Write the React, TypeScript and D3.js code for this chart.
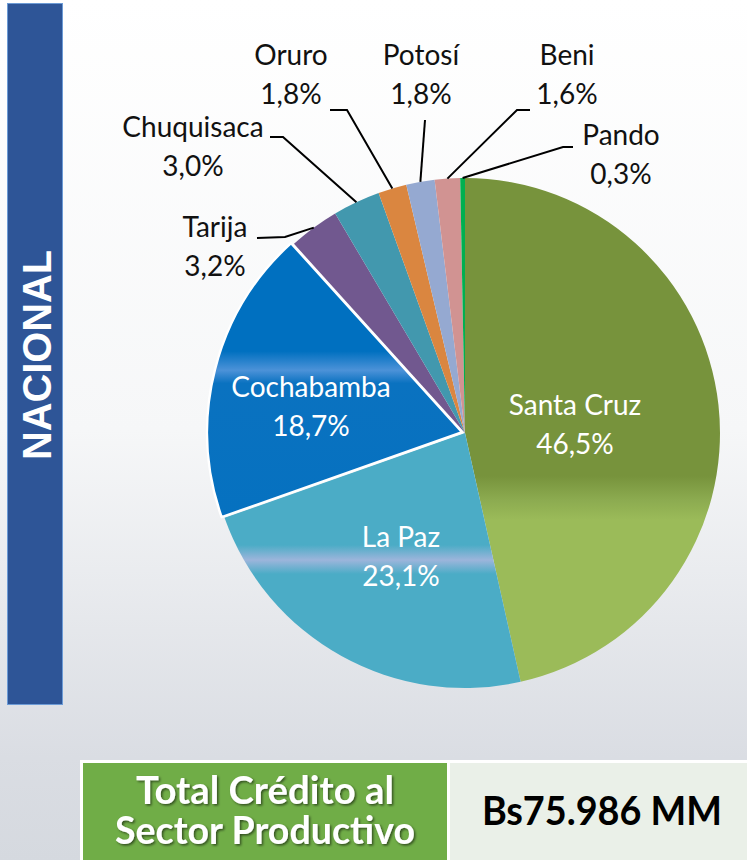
import React, { useEffect, useRef } from 'react';
import * as d3 from 'd3';

// datos del gráfico
const departments = ['Santa Cruz', 'La Paz', 'Cochabamba', 'Tarija', 'Chuquisaca', 'Oruro', 'Potosí', 'Beni', 'Pando'];
const shares = [46.5, 23.1, 18.7, 3.2, 3.0, 1.8, 1.8, 1.6, 0.3];
const sideTitle = 'NACIONAL';
const totalTitle = ['Total Crédito al', 'Sector Productivo'];
const totalValue = 'Bs75.986 MM';

const sliceColors = ['#77933C', '#4BACC6', '#0070C0', '#71588F', '#4298AE', '#DA8640', '#95A9D1', '#D19392', '#00B050'];

// posición de las etiquetas (solo layout)
const labelLayout = {
  'Santa Cruz': { x: 575, y: 415, inside: true },
  'La Paz': { x: 401, y: 547, inside: true },
  'Cochabamba': { x: 311, y: 397, inside: true },
  'Tarija': { x: 215, y: 237, start: [257, 238], elbow: [285, 237] },
  'Chuquisaca': { x: 193, y: 137, start: [270, 137], elbow: [283, 137] },
  'Oruro': { x: 291, y: 65, start: [330, 110], elbow: [347, 110] },
  'Potosí': { x: 421, y: 65, start: [425, 120], elbow: null },
  'Beni': { x: 567, y: 65, start: [530, 110], elbow: [517, 110] },
  'Pando': { x: 621, y: 145, start: [573, 147], elbow: [563, 147] },
};

const fmtPct = (v) => v.toFixed(1).replace('.', ',') + '%';

const App = () => {
  const chartRef = useRef(null);

  useEffect(() => {
    d3.select(chartRef.current).selectAll('*').remove();

    const width = 747;
    const height = 860;
    const cx = 465;
    const cy = 433;
    const radius = 255;
    const labelFont = "Lato, 'Open Sans', sans-serif";

    const svg = d3.select(chartRef.current)
      .append('svg')
      .attr('width', width)
      .attr('height', height)
      .attr('viewBox', [0, 0, width, height]);

    const defs = svg.append('defs');

    const bg = defs.append('linearGradient').attr('id', 'bg').attr('x1', 0).attr('y1', 0).attr('x2', 0).attr('y2', 1);
    bg.append('stop').attr('offset', 0).attr('stop-color', '#FFFFFF');
    bg.append('stop').attr('offset', 0.5).attr('stop-color', '#F6F7F8');
    bg.append('stop').attr('offset', 0.88).attr('stop-color', '#DADDE3');
    bg.append('stop').attr('offset', 1).attr('stop-color', '#D5D9DF');

    const shadow = defs.append('filter').attr('id', 'shadow').attr('x', '-10%').attr('y', '-20%').attr('width', '120%').attr('height', '150%');
    shadow.append('feDropShadow').attr('dx', 1.5).attr('dy', 1.5).attr('stdDeviation', 1).attr('flood-color', '#000').attr('flood-opacity', 0.55);

    // degradados de las porciones (bandas horizontales)
    const toOff = (y) => (y - (cy - radius)) / (2 * radius);
    const bandStops = {
      'Santa Cruz': [[0, '#77933C'], [toOff(476), '#77933C'], [toOff(500), '#8CAB50'], [toOff(520), '#9BBB59'], [1, '#9BBB59']],
      'La Paz': [[0, '#4BACC6'], [toOff(545), '#4BACC6'], [toOff(560), '#9CB5DB'], [toOff(574), '#4BACC6'], [1, '#4BACC6']],
      'Cochabamba': [[0, '#0070C0'], [toOff(352), '#0070C0'], [toOff(371), '#4C92D8'], [toOff(384), '#0A72C0'], [1, '#0070C0']],
    };
    departments.forEach((name, i) => {
      const g = defs.append('linearGradient')
        .attr('id', `grad${i}`)
        .attr('gradientUnits', 'userSpaceOnUse')
        .attr('x1', 0).attr('y1', -radius).attr('x2', 0).attr('y2', radius);
      const stops = bandStops[name] || [[0, sliceColors[i]], [1, sliceColors[i]]];
      stops.forEach(([o, c]) => g.append('stop').attr('offset', o).attr('stop-color', c));
    });

    svg.append('rect').attr('width', width).attr('height', height).attr('fill', 'url(#bg)');

    // barra lateral
    svg.append('rect')
      .attr('x', 7.5).attr('y', 3.5).attr('width', 55).attr('height', 701)
      .attr('fill', '#2E5597').attr('stroke', '#6C9BD6').attr('stroke-width', 1);
    svg.append('text')
      .attr('transform', `translate(51,355) rotate(-90)`)
      .attr('text-anchor', 'middle')
      .attr('font-family', "'Liberation Sans', Arial, sans-serif")
      .attr('font-weight', 'bold')
      .attr('font-size', 41)
      .attr('fill', '#FFFFFF')
      .attr('textLength', 210)
      .attr('lengthAdjust', 'spacingAndGlyphs')
      .text(sideTitle);

    // torta
    const pie = d3.pie().sort(null).value(d => d).startAngle(0).endAngle(2 * Math.PI);
    const arcs = pie(shares);
    const arc = d3.arc().innerRadius(0).outerRadius(radius);

    const g = svg.append('g').attr('transform', `translate(${cx},${cy})`);
    const order = arcs.map((a, i) => i).filter(i => departments[i] !== 'Cochabamba').concat([2]);
    order.forEach(i => {
      const a = arcs[i];
      const exploded = departments[i] === 'Cochabamba';
      const mid = (a.startAngle + a.endAngle) / 2;
      const off = exploded ? 3 : 0;
      g.append('path')
        .attr('transform', `translate(${off * Math.sin(mid)},${-off * Math.cos(mid)})`)
        .attr('d', arc(a))
        .attr('fill', `url(#grad${i})`)
        .attr('stroke', exploded ? '#FFFFFF' : 'none')
        .attr('stroke-width', exploded ? 2.5 : 0)
        .attr('stroke-linejoin', 'round');
    });

    // líneas guía
    const leader = d3.line();
    arcs.forEach((a, i) => {
      const lay = labelLayout[departments[i]];
      if (lay.inside) return;
      const mid = (a.startAngle + a.endAngle) / 2;
      const anchor = [cx + radius * Math.sin(mid), cy - radius * Math.cos(mid)];
      const pts = [lay.start];
      if (lay.elbow) pts.push(lay.elbow);
      pts.push(anchor);
      svg.append('path')
        .attr('d', leader(pts))
        .attr('fill', 'none')
        .attr('stroke', '#000000')
        .attr('stroke-width', 2);
    });

    // etiquetas
    arcs.forEach((a, i) => {
      const lay = labelLayout[departments[i]];
      const t = svg.append('text')
        .attr('text-anchor', 'middle')
        .attr('font-family', labelFont)
        .attr('font-size', 28)
        .attr('fill', lay.inside ? '#FFFFFF' : '#111111');
      t.append('tspan').attr('x', lay.x).attr('y', lay.y).text(departments[i]);
      t.append('tspan').attr('x', lay.x).attr('y', lay.y + 39).text(fmtPct(shares[i]));
    });

    // tabla total
    svg.append('rect').attr('x', 80).attr('y', 760).attr('width', 670).attr('height', 110).attr('fill', '#FFFFFF');
    svg.append('rect').attr('x', 83).attr('y', 763).attr('width', 364).attr('height', 110).attr('fill', '#70AD47');
    svg.append('rect').attr('x', 450).attr('y', 763).attr('width', 300).attr('height', 110).attr('fill', '#EAF0E8');

    const titleLengths = [258, 300];
    totalTitle.forEach((line, k) => {
      svg.append('text')
        .attr('x', 265).attr('y', 804 + k * 40)
        .attr('text-anchor', 'middle')
        .attr('font-family', labelFont)
        .attr('font-weight', 'bold')
        .attr('font-size', 39)
        .attr('fill', '#FFFFFF')
        .attr('filter', 'url(#shadow)')
        .attr('textLength', titleLengths[k])
        .attr('lengthAdjust', 'spacingAndGlyphs')
        .text(line);
    });

    svg.append('text')
      .attr('x', 602).attr('y', 825)
      .attr('text-anchor', 'middle')
      .attr('font-family', labelFont)
      .attr('font-weight', 'bold')
      .attr('font-size', 41)
      .attr('fill', '#000000')
      .attr('textLength', 240)
      .attr('lengthAdjust', 'spacingAndGlyphs')
      .text(totalValue);
  }, []);

  return (
    <div ref={chartRef} style={{ position: 'absolute', left: 0, top: 0 }}></div>
  );
};

export default App;
